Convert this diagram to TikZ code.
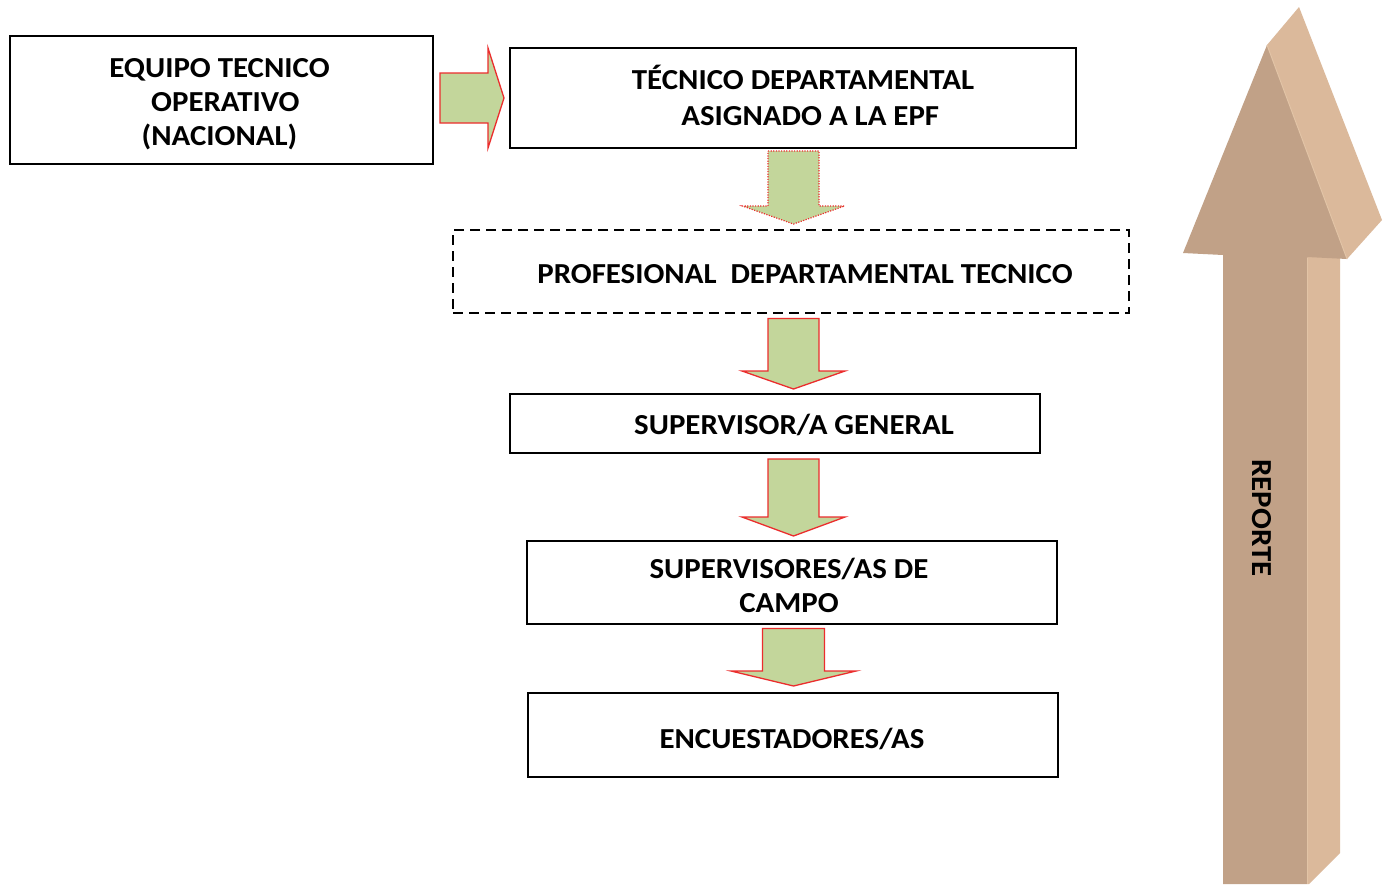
\documentclass[tikz,border=0pt]{standalone}
\usepackage{fontspec}
\setmainfont[FakeStretch=1.065]{Carlito}
\begin{document}
\begin{tikzpicture}[x=1pt,y=-1pt,
  box/.style={draw=black,line width=1.6pt,fill=white,inner sep=0pt},
  lbl/.style={font=\fontsize{29}{34}\selectfont\bfseries,align=center,inner sep=0pt},
  blockarrow/.style={draw=arrowred,line width=1.3pt,fill=arrowgreen,line join=miter},
]
\definecolor{arrowgreen}{RGB}{195,214,155}
\definecolor{arrowred}{RGB}{235,45,45}
\definecolor{frontface}{RGB}{193,161,135}
\definecolor{sideface}{RGB}{219,185,155}
\definecolor{edgelight}{RGB}{226,196,166}
\useasboundingbox (0,0) rectangle (1383,884);
\fill[white] (0,0) rectangle (1383,884);

% boxes
\node[box,minimum width=423pt,minimum height=128pt] (b1) at (221.5,100) {};
\node[box,minimum width=566pt,minimum height=100pt] (b2) at (793,98) {};
\node[box,dashed,dash pattern=on 10pt off 6pt,minimum width=676pt,minimum height=83pt] (b3) at (791,271.5) {};
\node[box,minimum width=530pt,minimum height=59pt] (b4) at (775,423.5) {};
\node[box,minimum width=530pt,minimum height=83pt] (b5) at (792,582.5) {};
\node[box,minimum width=530pt,minimum height=84pt] (b6) at (793,735) {};

% texts
\node[lbl] (t1) at ([xshift=-2pt,yshift=-4pt]b1.center) {EQUIPO TECNICO\\\hspace*{0.4em}OPERATIVO\\(NACIONAL)};
\node[lbl,font=\fontsize{29}{36}\selectfont\bfseries] (t2) at ([xshift=10pt,yshift=3pt]b2.center) {TÉCNICO DEPARTAMENTAL\\\hspace*{0.5em}ASIGNADO A LA EPF};
\node[lbl] (t3) at ([xshift=14pt,yshift=-3pt]b3.center) {PROFESIONAL\ \ DEPARTAMENTAL TECNICO};
\node[lbl] (t4) at ([xshift=19pt,yshift=-1pt]b4.center) {SUPERVISOR/A GENERAL};
\node[lbl] (t5) at ([xshift=-3pt,yshift=-3pt]b5.center) {SUPERVISORES/AS DE\\CAMPO};
\node[lbl] (t6) at ([xshift=-1pt,yshift=-4pt]b6.center) {ENCUESTADORES/AS};

% right block arrow
\draw[blockarrow] (440,73) -- (488,73) -- (488,48) -- (504,98) -- (488,148) -- (488,123) -- (440,123) -- cycle;

% down block arrows
\draw[blockarrow,dash pattern=on 1.2pt off 1.4pt,line width=1.2pt]
  (768,151) -- (819,151) -- (819,206) -- (844.5,206) -- (793.5,224) -- (742.5,206) -- (768,206) -- cycle;
\draw[blockarrow] (768,318.5) -- (819,318.5) -- (819,371) -- (845,371) -- (793.5,389) -- (742,371) -- (768,371) -- cycle;
\draw[blockarrow] (768,459) -- (819,459) -- (819,517) -- (845,517) -- (793.5,536) -- (742,517) -- (768,517) -- cycle;
\draw[blockarrow] (762.5,628.5) -- (824.5,628.5) -- (824.5,671) -- (856,671) -- (793.5,686) -- (731,671) -- (762.5,671) -- cycle;

% big 3D arrow
\fill[sideface] (1307,257) -- (1340,220) -- (1340,853) -- (1309,884) -- (1307,884) -- cycle;
\fill[sideface] (1267,45) -- (1299,7) -- (1382,220) -- (1347,259) -- cycle;
\fill[frontface] (1267,45) -- (1183,253) -- (1223,255) -- (1223,884) -- (1307,884) -- (1307,257) -- (1347,259) -- cycle;
\draw[edgelight,line width=1pt] (1307,258) -- (1307,884);
\draw[edgelight,line width=1pt] (1267,45) -- (1347,259);
\node[font=\fontsize{29}{34}\selectfont\bfseries,rotate=-90,inner sep=0pt] (rep) at (1262,518) {REPORTE};
\end{tikzpicture}
\end{document}
